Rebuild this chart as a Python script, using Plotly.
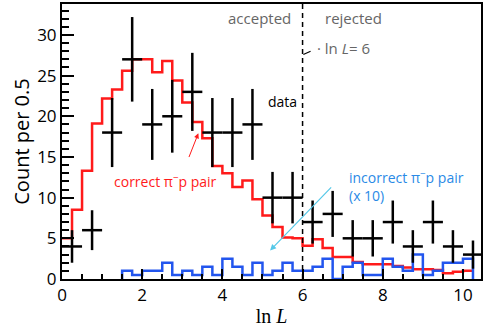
import plotly.graph_objects as go
import numpy as np

# data: counts per 0.5 bin (bin centres)
data_x = [0.25, 0.75, 1.25, 1.75, 2.25, 2.75, 3.25, 3.75, 4.25, 4.75, 5.25,
          5.75, 6.25, 6.75, 7.25, 7.75, 8.25, 8.75, 9.25, 9.75, 10.25]
data_y = [4, 6, 18, 27, 19, 20, 23, 18, 18, 19, 10,
          10, 7, 8, 5, 5, 7, 4, 7, 4, 3]

# MC histograms, 0.25 wide bins
mc_width = 0.25
correct_start = 0.0
correct_y = [5.0, 8.5, 13.3, 19.1, 22.2, 23.3, 25.6, 27.0, 27.0, 25.4,
             26.8, 24.4, 21.7, 19.3, 17.3, 13.9, 13.0, 11.3, 12.1, 9.8,
             7.8, 6.4, 5.1, 5.0, 4.1, 4.9, 3.8, 2.7, 2.7, 2.1,
             1.8, 1.8, 1.8, 1.6, 1.4, 1.2, 1.2, 1.1, 0.7, 0.9, 1.0]
incorrect_start = 1.5
incorrect_y = [1, 0.5, 1, 1, 2, 0.5, 1, 0.5, 1.5, 0.5,
               2.5, 1.5, 0.5, 2, 0.5, 1, 2, 1, 1, 1.5,
               2.5, 0, 1.5, 2, 0.5, 0.5, 2.5, 1.5, 1, 3,
               0.5, 1, 2, 2, 2.5]

cut_value = 6

# build step outlines
c_edges = correct_start + mc_width * np.arange(len(correct_y) + 1)
c_x = list(c_edges)
c_y = correct_y + [correct_y[-1]]

i_edges = incorrect_start + mc_width * np.arange(len(incorrect_y) + 1)
i_x = [i_edges[0]] + list(i_edges) + [i_edges[-1]]
i_y = [0] + incorrect_y + [incorrect_y[-1], 0]

fig = go.Figure()

fig.add_trace(go.Scatter(
    x=c_x, y=c_y, mode='lines', line_shape='hv',
    line=dict(color='#ff1a1a', width=2.5), showlegend=False, hoverinfo='skip'
))
fig.add_trace(go.Scatter(
    x=i_x, y=i_y, mode='lines', line_shape='hv',
    line=dict(color='#2255ee', width=2.5), showlegend=False, hoverinfo='skip'
))
fig.add_trace(go.Scatter(
    x=data_x, y=data_y, mode='markers',
    marker=dict(size=0.1, color='black'),
    error_y=dict(type='data', array=np.sqrt(data_y), thickness=2.5, width=0, color='black'),
    error_x=dict(type='constant', value=0.25, thickness=2.5, width=0, color='black'),
    showlegend=False
))

# cut line
fig.add_shape(type='line', x0=cut_value, x1=cut_value, y0=0, y1=1, yref='paper',
              line=dict(color='black', width=1.5, dash='5px,4px'))
fig.add_shape(type='line', x0=6.02, y0=27.6, x1=6.2, y1=28.0,
              line=dict(color='black', width=1.2))

gray = '#666666'
txt = 'Open Sans'
fig.add_annotation(x=5.75, y=32.1, text='accepted', showarrow=False, xanchor='right',
                   font=dict(family=txt, size=15, color=gray))
fig.add_annotation(x=6.5, y=32.1, text='rejected', showarrow=False, xanchor='left',
                   font=dict(family=txt, size=15, color=gray))
fig.add_annotation(x=6.3, y=28.4, text='· ln <i>L</i>= 6', showarrow=False, xanchor='left',
                   font=dict(family=txt, size=15, color=gray))
fig.add_annotation(x=5.5, y=21.8, text='data', showarrow=False,
                   font=dict(family=txt, size=14, color='black'))
fig.add_annotation(x=2.58, y=12.1, text='correct π<sup>−</sup>p pair', showarrow=False,
                   font=dict(family=txt, size=14, color='#ff1a1a'))
fig.add_annotation(x=3.4, y=17.9, ax=3.08, ay=13.9, axref='x', ayref='y',
                   showarrow=True, arrowhead=2, arrowsize=1, arrowwidth=1,
                   arrowcolor='#ff1a1a', text=' ')
fig.add_annotation(x=7.1, y=14.0, text='incorrect π<sup>−</sup>p pair<br>(x 10)',
                   showarrow=False, xanchor='left', yanchor='top', align='left',
                   font=dict(family=txt, size=14, color='#2a8ae6'))
fig.add_annotation(x=5.19, y=3.5, ax=6.8, ay=11.7, axref='x', ayref='y',
                   showarrow=True, arrowhead=2, arrowsize=1, arrowwidth=1.2,
                   arrowcolor='#55c8e8', text=' ')

fig.update_layout(
    width=485, height=327,
    margin=dict(l=62, r=4, t=2, b=48),
    plot_bgcolor='white', paper_bgcolor='white',
    font=dict(family=txt, size=17, color='black'),
    xaxis=dict(
        range=[0, 10.45], dtick=2, tick0=0,
        ticks='inside', ticklen=10, tickwidth=1.5, tickcolor='black',
        minor=dict(dtick=0.5, ticks='inside', ticklen=5, tickwidth=1.5, tickcolor='black'),
        showline=True, linewidth=2, linecolor='black', mirror=True,
        showgrid=False, zeroline=False,
        tickfont=dict(family=txt, size=17),
        title=dict(text='ln <i>L</i>', font=dict(family='Liberation Serif', size=20), standoff=4),
    ),
    yaxis=dict(
        range=[0, 33.8], dtick=5, tick0=0,
        ticks='inside', ticklen=12, tickwidth=1.5, tickcolor='black',
        minor=dict(dtick=1, ticks='inside', ticklen=7, tickwidth=1.5, tickcolor='black'),
        showline=True, linewidth=2, linecolor='black', mirror=True,
        showgrid=False, zeroline=False,
        tickfont=dict(family=txt, size=17),
        title=dict(text='Count per 0.5', font=dict(family=txt, size=20), standoff=2),
    ),
)

fig.write_html("out.html", config={'displayModeBar': False},
               post_script="document.body.style.margin='0px';")
